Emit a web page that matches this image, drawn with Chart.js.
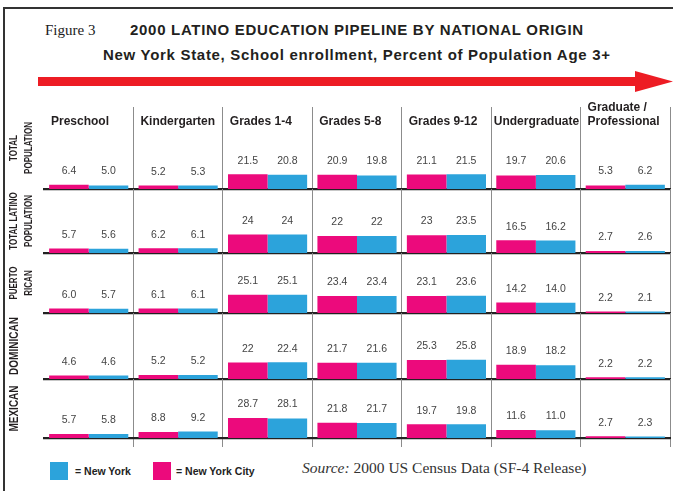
<!DOCTYPE html>
<html>
<head>
<meta charset="utf-8">
<script src="https://cdn.jsdelivr.net/npm/chart.js@4.4.1/dist/chart.umd.min.js"></script>
<style>
  html, body { margin: 0; padding: 0; background: #fff; }
  #page { position: relative; width: 673px; height: 491px; overflow: hidden; background: #fff;
          font-family: "Liberation Sans", Arial, sans-serif; color: #222; }
  .abs { position: absolute; white-space: nowrap; line-height: 18px; }
  .head { font-weight: bold; font-size: 15px; letter-spacing: 0.7px; color: #231f20; }
  canvas.row { position: absolute; left: 0; }
  .sw { position: absolute; width: 18px; height: 18px; }
  .lg { font-weight: bold; font-size: 10.5px; }
</style>
</head>
<body>
<div id="page">
  <div class="abs" style="left:3px;top:7px;width:670px;height:2px;background:#333;"></div>
  <div class="abs" style="left:3px;top:7px;width:2px;height:484px;background:#333;"></div>

  <div class="abs" style="left:45px;top:22px;font:15px 'Liberation Serif',serif;">Figure 3</div>
  <div class="abs head" style="left:130px;top:21px;">2000 LATINO EDUCATION PIPELINE BY NATIONAL ORIGIN</div>
  <div class="abs head" style="left:103px;top:46px;">New York State, School enrollment, Percent of Population Age 3+</div>

  <svg class="abs" style="left:0;top:0;" width="673" height="100">
    <rect x="38" y="77" width="599" height="9" fill="#ed1c24"/>
    <polygon points="635,71 673,81.5 635,92" fill="#ed1c24"/>
  </svg>

  <div id="legend"></div>
  <div class="abs" style="left:302px;top:459px;font:15.5px 'Liberation Serif',serif;color:#333;"><i>Source:</i> 2000 US Census Data (SF-4 Release)</div>
</div>

<script>
// school levels (columns)
const levels = ['Preschool', 'Kindergarten', 'Grades 1-4', 'Grades 5-8', 'Grades 9-12', 'Undergraduate', ['Graduate /', 'Professional']];

// groups (rows)
const groups = [['TOTAL', 'POPULATION'], ['TOTAL LATINO', 'POPULATION'], ['PUERTO', 'RICAN'], ['DOMINICAN'], ['MEXICAN']];

const seriesNames = ['New York City', 'New York'];
const seriesColors = ['#ec0a7c', '#2ca3db'];

// percent of population age 3+, as printed
const nycTotal       = ['6.4', '5.2', '21.5', '20.9', '21.1', '19.7', '5.3'];
const nyTotal        = ['5.0', '5.3', '20.8', '19.8', '21.5', '20.6', '6.2'];
const nycLatino      = ['5.7', '6.2', '24', '22', '23', '16.5', '2.7'];
const nyLatino       = ['5.6', '6.1', '24', '22', '23.5', '16.2', '2.6'];
const nycPuertoRican = ['6.0', '6.1', '25.1', '23.4', '23.1', '14.2', '2.2'];
const nyPuertoRican  = ['5.7', '6.1', '25.1', '23.4', '23.6', '14.0', '2.1'];
const nycDominican   = ['4.6', '5.2', '22', '21.7', '25.3', '18.9', '2.2'];
const nyDominican    = ['4.6', '5.2', '22.4', '21.6', '25.8', '18.2', '2.2'];
const nycMexican     = ['5.7', '8.8', '28.7', '21.8', '19.7', '11.6', '2.7'];
const nyMexican      = ['5.8', '9.2', '28.1', '21.7', '19.8', '11.0', '2.3'];

const rowData = [
  [nycTotal, nyTotal],
  [nycLatino, nyLatino],
  [nycPuertoRican, nyPuertoRican],
  [nycDominican, nyDominican],
  [nycMexican, nyMexican]
];

// layout of each row strip
const rowTop    = [95, 189, 253, 313, 379];
const rowHeight = [96, 66, 62, 68, 69];
const rowPadTop = [12, 0, 0, 0, 0];
const rowYMax   = [120, 83, 82, 88, 85];

const page = document.getElementById('page');

// legend
const legend = document.getElementById('legend');
[[1, 50, 75], [0, 153, 176]].forEach(([i, sx, tx]) => {
  const sw = document.createElement('div');
  sw.className = 'sw';
  sw.style.left = sx + 'px';
  sw.style.top = '462px';
  sw.style.background = seriesColors[i];
  page.appendChild(sw);
  const t = document.createElement('div');
  t.className = 'abs lg';
  t.style.left = tx + 'px';
  t.style.top = '462px';
  t.textContent = '= ' + seriesNames[i];
  page.appendChild(t);
});

const valueLabels = {
  id: 'valueLabels',
  afterDatasetsDraw(chart) {
    const ctx = chart.ctx;
    const metas = chart.data.datasets.map((d, i) => chart.getDatasetMeta(i));
    ctx.save();
    ctx.font = '10.5px "Liberation Sans", Arial, sans-serif';
    ctx.fillStyle = '#444';
    ctx.textAlign = 'center';
    ctx.textBaseline = 'middle';
    chart.data.labels.forEach((l, i) => {
      const top = Math.min(...metas.map(m => m.data[i].y));
      metas.forEach((m, d) => {
        ctx.fillText(chart.data.datasets[d].data[i], m.data[i].x, top - 13.5);
      });
    });
    ctx.restore();
  }
};

const rowLabel = {
  id: 'rowLabel',
  afterDraw(chart, args, opts) {
    const ctx = chart.ctx;
    const lines = opts.lines;
    const size = lines.length === 1 ? 12.5 : 10;
    const mid = (chart.chartArea.top + chart.chartArea.bottom) / 2;
    ctx.save();
    ctx.font = 'bold ' + size + 'px "Liberation Sans", Arial, sans-serif';
    ctx.fillStyle = '#231f20';
    ctx.textAlign = 'center';
    ctx.textBaseline = 'middle';
    lines.forEach((line, k) => {
      ctx.save();
      ctx.translate(14.5 + k * 14.5, mid);
      ctx.rotate(-Math.PI / 2);
      ctx.scale(0.8, 1);
      ctx.fillText(line, 0, 0);
      ctx.restore();
    });
    ctx.restore();
  }
};

const columnHeads = {
  id: 'columnHeads',
  afterDraw(chart, args, opts) {
    if (!opts.show) return;
    const ctx = chart.ctx;
    const x = chart.scales.x;
    const colW = x.width / chart.data.labels.length;
    ctx.save();
    ctx.font = 'bold 12px "Liberation Sans", Arial, sans-serif';
    ctx.fillStyle = '#231f20';
    ctx.textAlign = 'left';
    ctx.textBaseline = 'middle';
    chart.data.labels.forEach((label, i) => {
      const lines = Array.isArray(label) ? label : [label];
      const left = x.getPixelForValue(i) - colW / 2;
      lines.forEach((line, k) => {
        const w = ctx.measureText(line).width;
        const tx = Math.min(left + 7, left + colW - w - 1.5);
        ctx.fillText(line, tx, chart.chartArea.top + 15 - (lines.length - 1 - k) * 14);
      });
    });
    ctx.restore();
  }
};

rowData.forEach((series, r) => {
  const cv = document.createElement('canvas');
  cv.className = 'row';
  cv.width = 673;
  cv.height = rowHeight[r];
  cv.style.top = rowTop[r] + 'px';
  cv.style.width = '673px';
  cv.style.height = rowHeight[r] + 'px';
  page.appendChild(cv);
  const last = r === rowData.length - 1;

  new Chart(cv, {
    type: 'bar',
    data: {
      labels: levels,
      datasets: series.map((vals, i) => ({
        label: seriesNames[i],
        data: vals,
        backgroundColor: seriesColors[i],
        borderWidth: 0,
        categoryPercentage: 0.885,
        barPercentage: 1
      }))
    },
    options: {
      responsive: false,
      animation: false,
      devicePixelRatio: 1,
      layout: { padding: { left: 44, right: 3, top: rowPadTop[r], bottom: last ? 1 : 2 } },
      plugins: {
        legend: { display: false },
        tooltip: { enabled: false },
        rowLabel: { lines: groups[r] },
        columnHeads: { show: r === 0 }
      },
      scales: {
        x: {
          z: 1,
          offset: true,
          ticks: { display: false },
          grid: {
            offset: true,
            drawTicks: last,
            tickLength: 9,
            lineWidth: 1,
            color: ctx => (ctx.index === 0 || ctx.index >= levels.length) ? 'rgba(0,0,0,0)' : '#8c8c8c'
          },
          border: { display: true, color: '#222', width: 2.2 }
        },
        y: { display: false, min: 0, max: rowYMax[r] }
      }
    },
    plugins: [valueLabels, rowLabel, columnHeads]
  });
});
</script>
</body>
</html>
